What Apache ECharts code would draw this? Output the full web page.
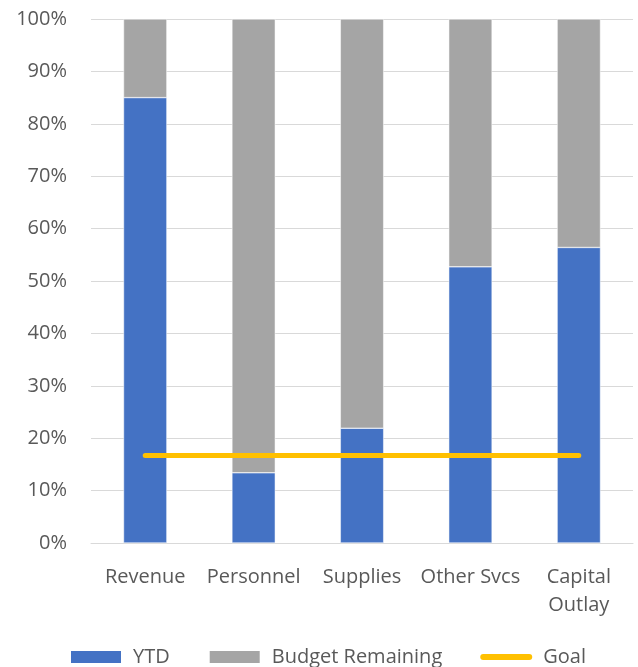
<!DOCTYPE html>
<html>
<head>
<meta charset="utf-8">
<script src="https://cdn.jsdelivr.net/npm/echarts@6/dist/echarts.min.js"></script>
<style>
  html, body { margin: 0; padding: 0; background: #fff; }
  #container { width: 638px; height: 667px; }
</style>
</head>
<body>
<div id="container"></div>
<script>
var categories = ['Revenue', 'Personnel', 'Supplies', 'Other Svcs', 'Capital\nOutlay'];
var ytd = [0.85, 0.134, 0.219, 0.527, 0.564];
var remaining = ytd.map(function (v) { return +(1 - v).toFixed(3); });
var goal = [0.167, 0.167, 0.167, 0.167, 0.167];

var font = "'Open Sans', 'Liberation Sans', sans-serif";

var myChart = echarts.init(document.getElementById('container'));

var option = {
    backgroundColor: '#fff',
    animation: false,
    textStyle: { fontFamily: font },
    grid: { left: 91, right: 5, top: 19, bottom: 124 },
    legend: {
        top: 642,
        left: 64,
        itemWidth: 52,
        itemHeight: 14,
        itemGap: 38,
        textStyle: { fontSize: 20, color: '#595959', fontFamily: font, padding: [0, 0, 0, 6] },
        data: [
            { name: 'YTD', icon: 'rect' },
            { name: 'Budget Remaining', icon: 'rect' },
            { name: 'Goal', icon: 'path://M3,0 L49,0 A3,3 0 0 1 49,6 L3,6 A3,3 0 0 1 3,0 Z' }
        ]
    },
    xAxis: {
        type: 'category',
        data: categories,
        axisTick: { show: false },
        axisLine: { lineStyle: { color: '#D9D9D9', width: 1 } },
        axisLabel: { color: '#595959', fontSize: 20, margin: 20, lineHeight: 28, interval: 0 }
    },
    yAxis: {
        type: 'value',
        min: 0,
        max: 1,
        interval: 0.1,
        axisLine: { show: false },
        axisTick: { show: false },
        splitLine: { lineStyle: { color: '#D9D9D9', width: 1 } },
        axisLabel: {
            color: '#595959',
            fontSize: 20,
            margin: 24,
            formatter: function (v) { return Math.round(v * 100) + '%'; }
        }
    },
    series: [
        {
            name: 'YTD',
            type: 'bar',
            stack: 'total',
            barWidth: '40%',
            data: ytd,
            itemStyle: { color: '#4472C4', borderColor: '#fff', borderWidth: 0.5 }
        },
        {
            name: 'Budget Remaining',
            type: 'bar',
            stack: 'total',
            barWidth: '40%',
            data: remaining,
            itemStyle: { color: '#A5A5A5', borderColor: '#fff', borderWidth: 0.5 }
        },
        {
            name: 'Goal',
            type: 'line',
            data: goal,
            symbol: 'none',
            lineStyle: { color: '#FFC000', width: 5, cap: 'round' },
            itemStyle: { color: '#FFC000' },
            z: 5
        }
    ]
};

myChart.setOption(option, true);
</script>
</body>
</html>
